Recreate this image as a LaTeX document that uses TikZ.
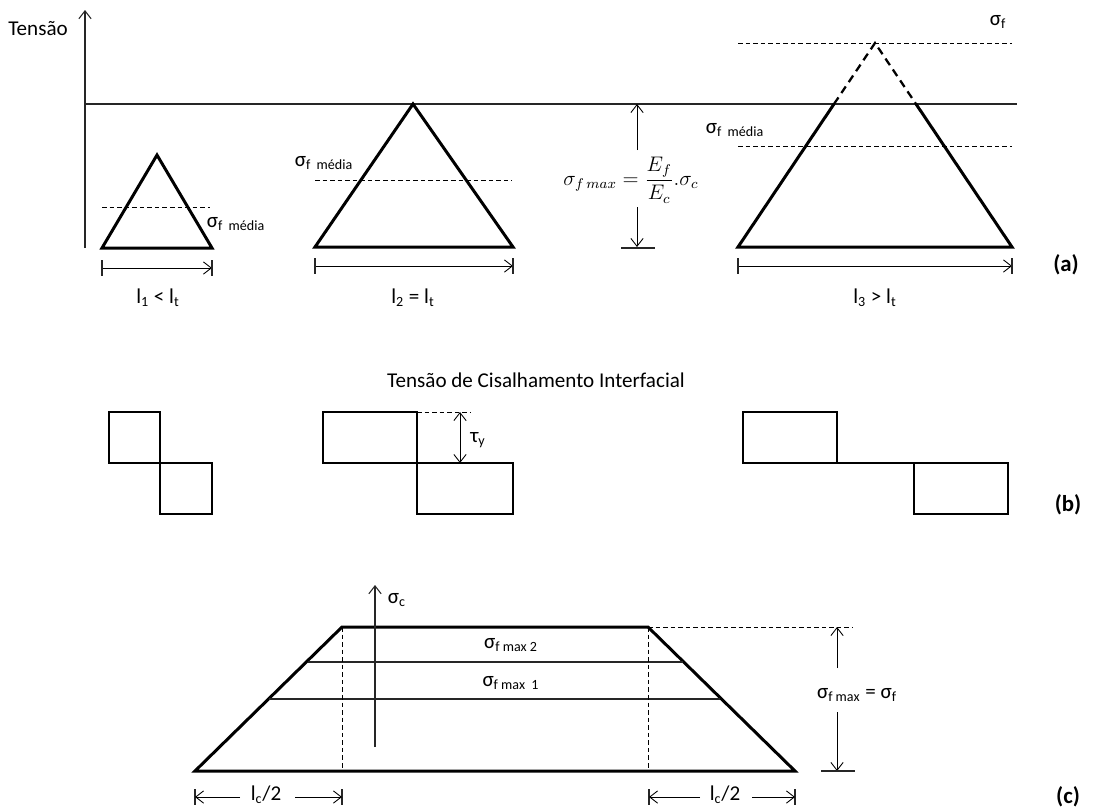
\documentclass[tikz,border=0pt]{standalone}
\usepackage{fontspec}
\setmainfont{Carlito}
\usepackage{tikz}
\usetikzlibrary{arrows.meta,positioning,calc}
\newcommand{\sub}[1]{\textsubscript{#1}}

\begin{document}
\begin{tikzpicture}[x=0.02cm, y=-0.02cm,
  axis/.style={line width=0.6pt, draw=black!85},
  curve/.style={line width=1.7pt, line join=miter, line cap=round},
  block/.style={line width=1.1pt, line join=miter},
  guide/.style={line width=0.5pt, dash pattern=on 2.6pt off 1.7pt},
  ghost/.style={line width=1.3pt, dash pattern=on 4.5pt off 3pt},
  barb/.style={line width=0.5pt, -{Straight Barb[length=4.5pt,width=7pt]}},
  label/.style={font=\fontsize{12}{14}\selectfont, inner sep=1pt},
  tag/.style={font=\fontsize{13}{15}\selectfont\bfseries, inner sep=1pt}
]
\useasboundingbox (0,0) rectangle (1094,809);

% ---------- (a) tensao na fibra ----------
\coordinate (origin) at (85,248);
\coordinate (ytop) at (85,10);
\draw[axis, -{Straight Barb[length=4.5pt,width=7pt]}] (origin) -- (ytop);
\node[label] (tensao) at (38,29) {Tensão};
\coordinate (lvlL) at (85,104);
\coordinate (lvlR) at (1017,104);
\draw[axis] (lvlL) -- (lvlR);

% triangulo l1 < lt
\coordinate (t1a) at (102,248);
\coordinate (t1b) at (212,248);
\coordinate (t1c) at (157,155);
\draw[curve] (t1a) -- (t1c) -- (t1b) -- cycle;
\draw[guide] (102,207) -- (210,207);
\node[label] (med1) at (236,224) {σ\sub{f~ média}};
\draw[barb] (102,268) -- (212,268);
\draw[axis] (102,260) -- (102,276) (212,260) -- (212,276);
\node[label] (len1) at (158,298) {l\sub{1} < l\sub{t}};

% triangulo l2 = lt
\coordinate (t2a) at (315,247);
\coordinate (t2b) at (513,247);
\coordinate (t2c) at (413,104);
\draw[curve] (t2a) -- (t2c) -- (t2b) -- cycle;
\draw[guide] (315,180) -- (512,180);
\node[label] (med2) at (324,163) {σ\sub{f~ média}};
\draw[barb] (315,266) -- (513,266);
\draw[axis] (315,258) -- (315,274) (513,258) -- (513,274);
\node[label] (len2) at (413,298) {l\sub{2} = l\sub{t}};

% cota sigma f max
\node[font=\fontsize{12}{14}\selectfont, inner sep=1pt] (fmax) at (631,180)
  {$\displaystyle\sigma_{f\,max}=\frac{E_f}{E_c}.\sigma_c$};
\coordinate (fmaxTop) at (637,104);
\coordinate (fmaxBot) at (637,247);
\draw[barb] (637,150) -- (fmaxTop);
\draw[barb] (637,207) -- (fmaxBot);
\draw[axis] (621,248) -- (655,248);

% triangulo l3 > lt
\coordinate (t3a) at (738,247);
\coordinate (t3b) at (1012,247);
\coordinate (t3c) at (875,43);
\coordinate (t3l) at (834,104);
\coordinate (t3r) at (916,104);
\draw[curve] (t3l) -- (t3a) -- (t3b) -- (t3r);
\draw[ghost] (t3l) -- (t3c) -- (t3r);
\draw[guide] (738,43) -- (1012,43);
\draw[guide] (738,146) -- (1012,146);
\node[label] (sigf) at (998,22) {σ\sub{f}};
\node[label] (med3) at (735,130) {σ\sub{f~ média}};
\draw[barb] (738,266) -- (1012,266);
\draw[axis] (738,258) -- (738,274) (1012,258) -- (1012,274);
\node[label] (len3) at (875,298) {l\sub{3} > l\sub{t}};
\node[tag] (taga) at (1066,265) {(a)};

% ---------- (b) tensao de cisalhamento ----------
\node[label] (shear) at (536,380) {Tensão de Cisalhamento Interfacial};
\draw[block] (109,412) rectangle (160,463);
\draw[block] (160,463) rectangle (212,514);
\draw[block] (323,412) rectangle (417,463);
\draw[block] (417,463) rectangle (513,514);
\draw[guide] (417,412) -- (470,412);
\coordinate (tauTop) at (460,412);
\coordinate (tauBot) at (460,463);
\draw[line width=0.5pt, {Straight Barb[length=4.5pt,width=7pt]}-{Straight Barb[length=4.5pt,width=7pt]}] (tauTop) -- (tauBot);
\node[label] (tau) at (478,440) {τ\sub{y}};
\draw[block] (743,412) rectangle (837,463);
\draw[block] (837,463) -- (914,463);
\draw[block] (914,463) rectangle (1008,514);
\node[tag] (tagb) at (1068,505) {(b)};

% ---------- (c) fibra longa ----------
\coordinate (pA) at (195,771);
\coordinate (pB) at (342,627);
\coordinate (pC) at (648,627);
\coordinate (pD) at (795,771);
\draw[curve] (pA) -- (pB) -- (pC) -- (pD) -- cycle;
\draw[axis] (308,662) -- (683,662);
\draw[axis] (269,699) -- (720,699);
\draw[guide] (pB) -- (342,771);
\draw[guide] (pC) -- (648,771);
\draw[guide] (pC) -- (853,627);
\draw[axis, -{Straight Barb[length=4.5pt,width=7pt]}] (375,747) -- (375,585);
\node[label] (sigc) at (397,600) {σ\sub{c}};
\node[label] (max2) at (511,645) {σ\sub{f max 2}};
\node[label] (max1) at (511,683) {σ\sub{f max~ 1}};
\draw[barb] (837,668) -- (837,627);
\draw[barb] (837,712) -- (837,771);
\draw[axis] (821,771) -- (855,771);
\node[label] (fmaxc) at (857,695) {σ\sub{f max} = σ\sub{f}};
% cotas lc/2
\draw[axis] (195,789) -- (195,805) (342,789) -- (342,805);
\draw[barb] (240,797) -- (195,797);
\draw[barb] (295,797) -- (342,797);
\node[label, inner sep=0pt] (lc1) at (266,795) {l\sub{c}/2};
\draw[axis] (649,789) -- (649,805) (795,789) -- (795,805);
\draw[barb] (700,797) -- (649,797);
\draw[barb] (752,797) -- (795,797);
\node[label, inner sep=0pt] (lc2) at (725,795) {l\sub{c}/2};
\node[tag] (tagc) at (1068,797) {(c)};
\end{tikzpicture}
\end{document}
